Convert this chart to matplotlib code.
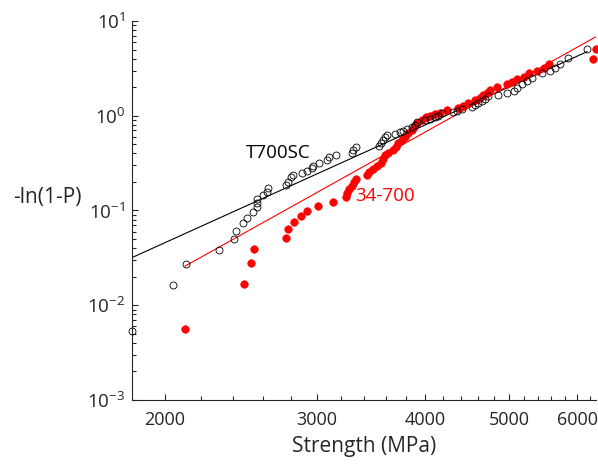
import matplotlib
matplotlib.use("Agg")
import matplotlib.pyplot as plt
import numpy as np
from matplotlib.ticker import FixedLocator, NullFormatter, LogLocator

FONT = 'Open Sans'
plt.rcParams['font.family'] = [FONT, 'DejaVu Sans']
plt.rcParams['mathtext.fontset'] = 'custom'
plt.rcParams['mathtext.rm'] = FONT
plt.rcParams['mathtext.it'] = FONT + ':italic'

# ---- data ----
t700_strength = [1833, 2043, 2115, 2312, 2404, 2417, 2460, 2487, 2527, 2554,
                 2554, 2554, 2599, 2627, 2632, 2761, 2774, 2798, 2816, 2879,
                 2918, 2957, 2970, 3018, 3078, 3099, 3158, 3295, 3304, 3328,
                 3541, 3557, 3573, 3595, 3617, 3693, 3742, 3775, 3810, 3861,
                 3895, 3919, 4000, 4054, 4108, 4144, 4182, 4313, 4353, 4411,
                 4530, 4570, 4611, 4653, 4694, 4735, 4863, 4973, 5062, 5108,
                 5176, 5246, 5316, 5460, 5582, 5657, 5733, 5852, 6156]
t700_lnp = [0.00539, 0.01625, 0.0275, 0.0386, 0.0500, 0.0612, 0.0733, 0.0840,
            0.0964, 0.1097, 0.1209, 0.1332, 0.1468, 0.1579, 0.1715, 0.1845,
            0.2013, 0.2273, 0.2369, 0.2505, 0.2630, 0.2788, 0.2948, 0.3148,
            0.3411, 0.3696, 0.3852, 0.4014, 0.4350, 0.4713, 0.4794, 0.5194,
            0.5546, 0.5923, 0.6263, 0.6417, 0.6688, 0.6953, 0.7194, 0.7552,
            0.7986, 0.8528, 0.9018, 0.9307, 0.9629, 1.001, 1.061, 1.103,
            1.130, 1.178, 1.237, 1.289, 1.353, 1.431, 1.513, 1.628, 1.668,
            1.738, 1.838, 1.977, 2.147, 2.327, 2.521, 2.806, 2.967, 3.215,
            3.517, 4.040, 5.101]

c34_strength = [2111, 2469, 2513, 2534, 2764, 2778, 2821, 2872, 2920, 3010,
                3133, 3238, 3246, 3269, 3290, 3310, 3328, 3430, 3448, 3485,
                3523, 3557, 3573, 3595, 3627, 3676, 3703, 3725, 3760, 3792,
                3826, 3861, 3884, 3919, 3965, 4011, 4054, 4108, 4163, 4238,
                4371, 4430, 4489, 4570, 4632, 4673, 4715, 4757, 4843, 4973,
                5040, 5108, 5199, 5268, 5388, 5483, 5557, 6255, 6305]
c34_lnp = [0.00562, 0.01688, 0.02812, 0.03953, 0.05163, 0.06338, 0.07509,
           0.08685, 0.09877, 0.1116, 0.1239, 0.1378, 0.1519, 0.1674, 0.1827,
           0.1999, 0.2166, 0.2352, 0.2567, 0.2741, 0.2948, 0.3148, 0.3470,
           0.3824, 0.4072, 0.4350, 0.4713, 0.5119, 0.5546, 0.6010, 0.6527,
           0.7073, 0.7663, 0.8323, 0.9018, 0.9629, 1.001, 1.043, 1.077,
           1.150, 1.199, 1.267, 1.353, 1.466, 1.551, 1.656, 1.751, 1.870,
           1.997, 2.163, 2.288, 2.425, 2.583, 2.806, 2.967, 3.168, 3.517,
           4.000, 5.101]

# Weibull fit parameters (modulus, scale MPa)
t700_fit = (4.13, 4223)
c34_fit = (5.095, 4325)

x_major = [2000, 3000, 4000, 5000, 6000]
x_major_labels = ['2000', '3000', '4000', '5000', '6000']
x_minor = [2200, 2400, 2600, 2800, 3200, 3400, 3600, 3800, 4200, 4400,
           4600, 4800, 5200, 5400, 5600, 5800, 6200]
y_major = [1e-3, 1e-2, 1e-1, 1e0, 1e1]
y_major_labels = [r'$\mathregular{10^{-3}}$', r'$\mathregular{10^{-2}}$',
                  r'$\mathregular{10^{-1}}$', r'$\mathregular{10^{0}}$',
                  r'$\mathregular{10^{1}}$']

fig = plt.figure(figsize=(5.98, 4.65), dpi=100)
ax = fig.add_axes([132/598, 1-400/465, (596-132)/598, (400-21)/465])
ax.set_xscale('log')
ax.set_yscale('log')

xmin = min(min(t700_strength), min(c34_strength))
xmax = max(max(t700_strength), max(c34_strength))
ax.set_xlim(xmin, xmax)
ax.set_ylim(1e-3, 1e1)


def weib(xs, m, s0):
    xs = np.asarray(xs, float)
    return (xs / s0) ** m


xb = np.array([min(t700_strength), max(t700_strength)])
ax.plot(xb, weib(xb, *t700_fit), color='black', lw=0.8, zorder=2)
xr = np.array([min(c34_strength), max(c34_strength)])
ax.plot(xr, weib(xr, *c34_fit), color='red', lw=0.8, zorder=2)

ax.plot(c34_strength, c34_lnp, 'o', ms=5.4, mfc='red', mec='red', mew=0.5,
        ls='none', clip_on=False, zorder=3)
ax.plot(t700_strength, t700_lnp, 'o', ms=5.0, mfc='none', mec='black', mew=0.6,
        ls='none', clip_on=False, zorder=4)

for sp in ['top', 'right']:
    ax.spines[sp].set_visible(False)
for sp in ['left', 'bottom']:
    ax.spines[sp].set_color('#262626')
    ax.spines[sp].set_linewidth(0.8)

ax.xaxis.set_major_locator(FixedLocator(x_major))
ax.xaxis.set_minor_locator(FixedLocator(x_minor))
ax.set_xticklabels(x_major_labels)
ax.xaxis.set_minor_formatter(NullFormatter())
ax.yaxis.set_major_locator(FixedLocator(y_major))
ax.set_yticklabels(y_major_labels)
ax.yaxis.set_minor_locator(LogLocator(base=10, subs=np.arange(2, 10), numticks=20))
ax.yaxis.set_minor_formatter(NullFormatter())

ax.tick_params(which='both', direction='in', colors='#262626', labelsize=13.5,
               width=0.8)
ax.tick_params(axis='x', labelsize=13)
ax.tick_params(which='major', length=4.5)
ax.tick_params(which='minor', length=3)
ax.tick_params(axis='x', pad=8)
ax.tick_params(axis='y', pad=5)

ax.set_xlabel('Strength (MPa)', fontsize=15, color='#262626', labelpad=5)

fig.text(82/598, 1-197/465, '-ln(1-P)', fontsize=15, color='#262626',
         ha='right', va='center')
fig.text(246/598, 1-153/465, 'T700SC', fontsize=13.5, color='black',
         ha='left', va='center')
fig.text(355/598, 1-196/465, '34-700', fontsize=13.5, color='red',
         ha='left', va='center')

fig.savefig('out.png', dpi=100)
